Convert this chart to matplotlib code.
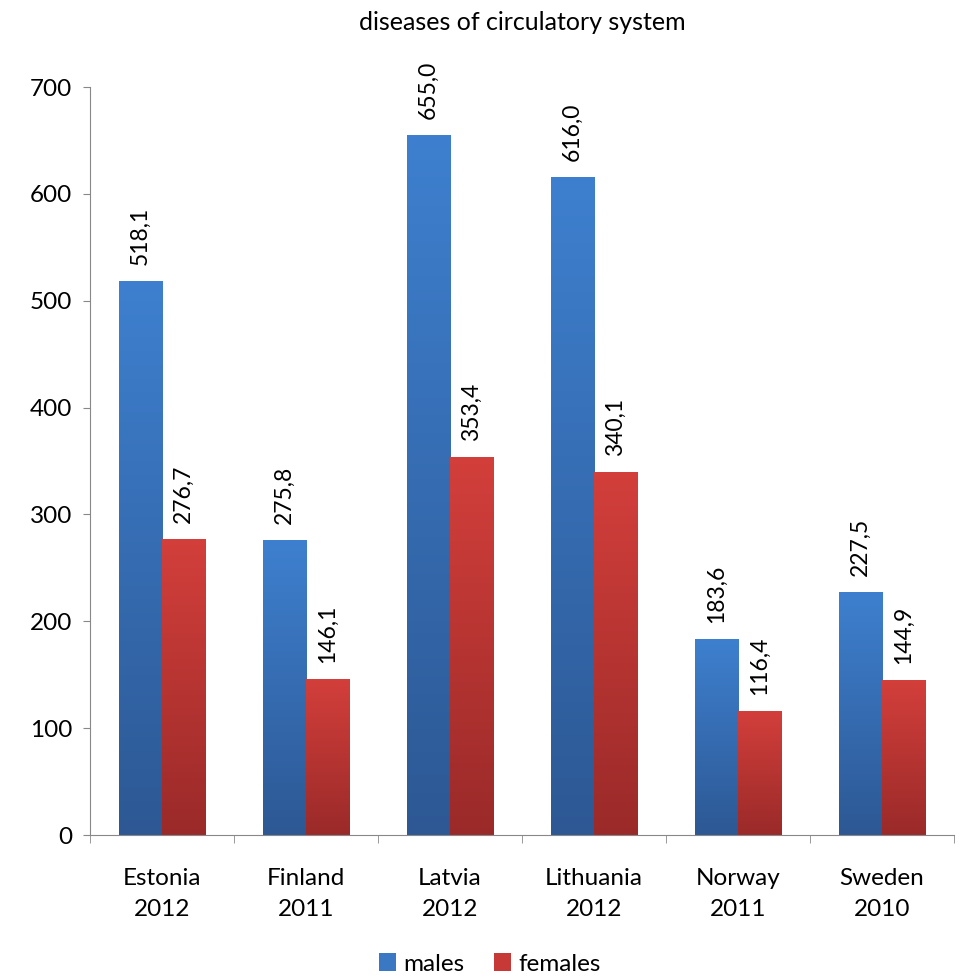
import matplotlib
matplotlib.use("Agg")
import matplotlib.pyplot as plt
import numpy as np
from matplotlib.colors import LinearSegmentedColormap
from matplotlib.patches import Patch

plt.rcParams['font.family'] = ['Lato', 'DejaVu Sans']

categories = ["Estonia\n2012", "Finland\n2011", "Latvia\n2012", "Lithuania\n2012", "Norway\n2011", "Sweden\n2010"]
males = [518.1, 275.8, 655.0, 616.0, 183.6, 227.5]
females = [276.7, 146.1, 353.4, 340.1, 116.4, 144.9]
series_names = ["males", "females"]
title = "diseases of circulatory system"

FS = 17.5
fig = plt.figure(figsize=(9.62, 9.77), dpi=100)
W, H = 962, 977
ax = fig.add_axes([90 / W, (H - 835) / H, (954 - 90) / W, (835 - 87) / H])

x = np.arange(len(categories))
bw = 0.3
blue_cmap = LinearSegmentedColormap.from_list("b", ["#2D5894", "#3E80CF"])
red_cmap = LinearSegmentedColormap.from_list("r", ["#9A2A29", "#D33F3B"])

grad = np.linspace(0, 1, 256).reshape(-1, 1)
for vals, off, cmap in [(males, -bw / 2, blue_cmap), (females, bw / 2, red_cmap)]:
    bars = ax.bar(x + off, vals, width=bw, color="none", edgecolor="none", zorder=2)
    for b, v in zip(bars, vals):
        x0 = b.get_x()
        im = ax.imshow(grad, extent=[x0, x0 + bw, 0, v], origin="lower", cmap=cmap,
                       aspect="auto", zorder=2, interpolation="bilinear")
        im.set_clip_path(b)
        ax.text(x0 + bw / 2, v + 15, f"{v:.1f}".replace(".", ","), rotation=90,
                ha="center", va="bottom", fontsize=16.5, color="black")

ax.set_xlim(-0.5, len(categories) - 0.5)
ax.set_ylim(0, 700)
ax.set_yticks(range(0, 701, 100))
ax.tick_params(axis="y", labelsize=FS, length=5, color="#888888", pad=8)
ax.set_xticks(x)
ax.set_xticklabels(categories, fontsize=FS, linespacing=1.55)
ax.tick_params(axis="x", length=0, pad=24)
ax.set_xticks(np.arange(-0.5, len(categories), 1), minor=True)
ax.tick_params(axis="x", which="minor", length=6, color="#888888")
for s in ["top", "right"]:
    ax.spines[s].set_visible(False)
for s in ["left", "bottom"]:
    ax.spines[s].set_color("#888888")
ax.set_title(title, fontsize=18, pad=41)

handles = [Patch(facecolor="#3A78C4"), Patch(facecolor="#C63936")]
fig.legend(handles, series_names, loc="center", bbox_to_anchor=(490 / W, 1 - 964 / H),
           ncol=2, frameon=False, fontsize=FS, handlelength=0.7, handleheight=0.7,
           handletextpad=0.3, columnspacing=1.2)

fig.savefig("out.png", dpi=100)
